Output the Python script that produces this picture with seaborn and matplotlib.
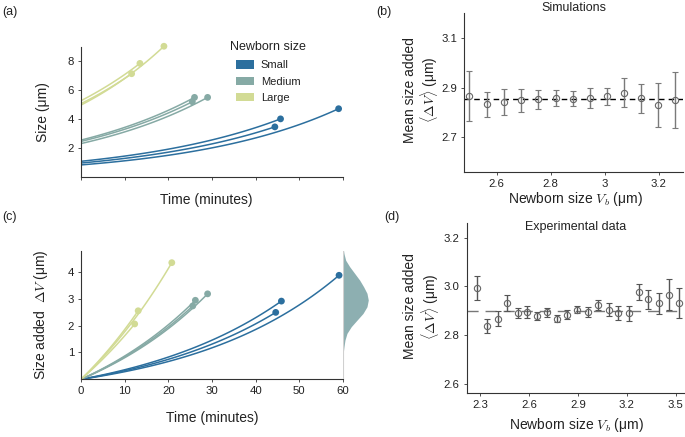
import numpy as np
import pandas as pd
import matplotlib
matplotlib.use("Agg")
import matplotlib.pyplot as plt
import seaborn as sns
from matplotlib.patches import Patch

# ---- data ----
size_groups = ["Small", "Medium", "Large"]
group_colors = ["#2c6f9e", "#86aaa5", "#d2db95"]

cell_group = ["Small"] * 3 + ["Medium"] * 3 + ["Large"] * 3
birth_size = [0.83, 1.08, 0.96, 2.54, 2.45, 2.30, 5.05, 5.25, 4.95]
div_size = [4.70, 4.00, 3.45, 5.48, 5.18, 5.48, 7.11, 7.82, 9.00]
div_time_a = [59.0, 45.7, 44.4, 26.0, 25.5, 29.0, 11.6, 13.5, 19.0]
div_time_c = [59.1, 45.9, 44.6, 26.2, 25.6, 29.0, 12.3, 13.1, 20.8]
added_size = [3.87, 2.91, 2.49, 2.94, 2.73, 3.18, 2.06, 2.55, 4.34]

# distribution of added size (panel c, right side)
dist_dv = [4.93, 4.68, 4.43, 4.19, 3.94, 3.69, 3.44, 3.20, 2.95, 2.70, 2.45,
           2.20, 1.96, 1.71, 1.46, 1.21, 0.90]
dist_width = [0, 1.0, 2.7, 6.7, 11.7, 16.7, 20.7, 24.0, 25.3, 24.0, 20.0,
              14.0, 8.3, 4.0, 2.0, 1.0, 0]

# panel b: simulations
sim_vb = [2.499, 2.563, 2.627, 2.690, 2.754, 2.818, 2.881, 2.945, 3.009,
          3.071, 3.136, 3.199, 3.262]
sim_mean = [2.866, 2.832, 2.842, 2.848, 2.853, 2.858, 2.855, 2.858, 2.864,
            2.880, 2.856, 2.830, 2.850]
sim_err = [0.100, 0.052, 0.051, 0.046, 0.038, 0.034, 0.030, 0.040, 0.034,
           0.057, 0.060, 0.087, 0.113]
sim_level = 2.852

# panel d: experimental data
exp_vb = [2.280, 2.341, 2.407, 2.464, 2.531, 2.590, 2.652, 2.713, 2.774,
          2.836, 2.897, 2.963, 3.024, 3.088, 3.149, 3.216, 3.278, 3.333,
          3.399, 3.460, 3.523]
exp_mean = [2.992, 2.837, 2.866, 2.932, 2.891, 2.894, 2.879, 2.893, 2.866,
            2.883, 2.904, 2.893, 2.923, 2.904, 2.891, 2.889, 2.978, 2.946,
            2.930, 2.966, 2.931]
exp_err = [0.050, 0.029, 0.031, 0.034, 0.020, 0.025, 0.016, 0.018, 0.014,
           0.018, 0.014, 0.020, 0.022, 0.026, 0.028, 0.030, 0.033, 0.040,
           0.043, 0.062, 0.063]
exp_level = 2.90

# ---- style ----
sns.set_style("ticks")
plt.rcParams["font.family"] = ["Liberation Sans", "DejaVu Sans"]
plt.rcParams["mathtext.fontset"] = "cm"
AX_COL = "#333333"
TXT = "#222222"
palette = dict(zip(size_groups, group_colors))


def style_axes(ax):
    sns.despine(ax=ax)
    for s in ("left", "bottom"):
        ax.spines[s].set_color(AX_COL)
        ax.spines[s].set_linewidth(0.8)
    ax.tick_params(length=2, width=0.6, color=AX_COL, labelsize=8.2,
                   labelcolor=TXT, pad=3)


# growth curves (exponential between birth and division)
rows_a, rows_c = [], []
for i in range(len(cell_group)):
    vb, vd = birth_size[i], div_size[i]
    ta = np.linspace(0, div_time_a[i], 120)
    va = vb * (vd / vb) ** (ta / div_time_a[i])
    rows_a.append(pd.DataFrame({"t": ta, "v": va, "cell": i, "group": cell_group[i]}))
    lam = np.log(vd / vb) / div_time_c[i]
    tc = np.linspace(0, div_time_c[i], 120)
    dv = added_size[i] * (np.exp(lam * tc) - 1) / (np.exp(lam * div_time_c[i]) - 1)
    rows_c.append(pd.DataFrame({"t": tc, "dv": dv, "cell": i, "group": cell_group[i]}))
curves_a = pd.concat(rows_a, ignore_index=True)
curves_c = pd.concat(rows_c, ignore_index=True)

fig = plt.figure(figsize=(6.85, 4.37), dpi=100)
ax_a = fig.add_axes([0.1182, 0.595, 0.3825, 0.2975])
ax_c = fig.add_axes([0.1182, 0.132, 0.3825, 0.294])
ax_dist = fig.add_axes([0.5007, 0.132, 0.0438, 0.294], sharey=ax_c)
ax_b = fig.add_axes([0.6774, 0.6064, 0.3197, 0.3638])
ax_d = fig.add_axes([0.6813, 0.100, 0.317, 0.3897])

# ---- (a) ----
sns.lineplot(data=curves_a, x="t", y="v", hue="group", units="cell",
             estimator=None, palette=palette, legend=False, sort=False,
             linewidth=1.1, ax=ax_a)
sns.scatterplot(x=div_time_a, y=div_size, hue=cell_group, palette=palette,
                s=24, edgecolor="none", legend=False, clip_on=False, ax=ax_a,
                zorder=3)
ax_a.set_xlim(0, 60)
ax_a.set_ylim(0, 8.95)
ax_a.set_xticks(range(0, 61, 10))
ax_a.set_xticklabels([])
ax_a.set_yticks([2, 4, 6, 8])
style_axes(ax_a)
ax_a.set_xlabel("Time (minutes)", fontsize=10, color=TXT)
ax_a.set_ylabel("Size (μm)", fontsize=10, color=TXT)
ax_a.xaxis.set_label_coords(0.48, -0.125)
ax_a.yaxis.set_label_coords(-0.118, 0.5)
handles = [Patch(facecolor=c, edgecolor="none", label=g)
           for g, c in zip(size_groups, group_colors)]
leg = ax_a.legend(handles=handles, loc="upper left",
                  bbox_to_anchor=(0.592, 0.897), frameon=False, fontsize=8,
                  handlelength=1.62, handleheight=0.8,
                  handletextpad=0.6, labelspacing=0.55, borderpad=0,
                  borderaxespad=0)
for t in leg.get_texts():
    t.set_color(TXT)
ax_a.text(0.715, 1.003, "Newborn size", transform=ax_a.transAxes,
          ha="center", va="center", fontsize=9, color=TXT)

# ---- (c) ----
sns.lineplot(data=curves_c, x="t", y="dv", hue="group", units="cell",
             estimator=None, palette=palette, legend=False, sort=False,
             linewidth=1.1, ax=ax_c)
sns.scatterplot(x=div_time_c, y=added_size, hue=cell_group, palette=palette,
                s=24, edgecolor="none", legend=False, clip_on=False, ax=ax_c,
                zorder=3)
ax_c.set_xlim(0, 60)
ax_c.set_ylim(0, 4.78)
ax_c.set_xticks(range(0, 61, 10))
ax_c.set_yticks([1, 2, 3, 4])
style_axes(ax_c)
ax_c.set_xlabel("Time (minutes)", fontsize=10, color=TXT)
ax_c.set_ylabel(r"Size added  $\Delta V$ (μm)", fontsize=10, color=TXT)
ax_c.xaxis.set_label_coords(0.5, -0.25)
ax_c.yaxis.set_label_coords(-0.118, 0.5)

ax_dist.fill_betweenx(dist_dv, 0, dist_width, color="#8dafb1", linewidth=0)
ax_dist.plot([0, 0], [0, dist_dv[0] + 0.05], color="#d0d0d0", lw=0.8)
ax_dist.set_xlim(0, 30)
ax_dist.axis("off")

# ---- (b) ----
ax_b.axhline(sim_level, color="black", lw=1.0, ls=(0, (4, 3)), zorder=1)
ax_b.errorbar(sim_vb, sim_mean, yerr=sim_err, fmt="o", ms=4.5, mfc="none",
              mec="#666666", mew=0.8, ecolor="#7a7a7a", elinewidth=1.0,
              capsize=2.5, capthick=0.9, zorder=2)
ax_b.set_xlim(2.479, 3.29)
ax_b.set_ylim(2.56, 3.2)
ax_b.set_xticks([2.6, 2.8, 3.0, 3.2])
ax_b.set_xticklabels(["2.6", "2.8", "3", "3.2"])
ax_b.set_yticks([2.7, 2.9, 3.1])
style_axes(ax_b)
ax_b.set_xlabel(r"Newborn size $V_b$ (μm)", fontsize=10, color=TXT)
ax_b.set_ylabel("Mean size added\n" + r"$\langle \Delta V \rangle$ (μm)",
                fontsize=10, color=TXT, linespacing=1.1)
ax_b.xaxis.set_label_coords(0.51, -0.113)
ax_b.yaxis.set_label_coords(-0.108, 0.516)
ax_b.text(0.5, 1.03, "Simulations", transform=ax_b.transAxes, ha="center",
          va="center", fontsize=9, color=TXT)

# ---- (d) ----
ax_d.axhline(exp_level, color="#777777", lw=1.0, ls=(0, (8, 5)), zorder=1)
ax_d.errorbar(exp_vb, exp_mean, yerr=exp_err, fmt="o", ms=4.5, mfc="none",
              mec="#666666", mew=0.8, ecolor="#555555", elinewidth=1.0,
              capsize=2.2, capthick=0.9, zorder=2)
ax_d.set_xlim(2.218, 3.55)
ax_d.set_ylim(2.56, 3.26)
ax_d.set_xticks([2.3, 2.6, 2.9, 3.2, 3.5])
ax_d.set_yticks([2.6, 2.8, 3.0, 3.2])
ax_d.set_yticklabels(["2.6", "2.8", "3.0", "3.2"])
style_axes(ax_d)
ax_d.set_xlabel(r"Newborn size $V_b$ (μm)", fontsize=10, color=TXT)
ax_d.set_ylabel("Mean size added\n" + r"$\langle \Delta V \rangle$ (μm)",
                fontsize=10, color=TXT, linespacing=1.1)
ax_d.xaxis.set_label_coords(0.504, -0.135)
ax_d.yaxis.set_label_coords(-0.118, 0.51)
ax_d.text(0.5, 0.978, "Experimental data", transform=ax_d.transAxes,
          ha="center", va="center", fontsize=9, color=TXT)

# panel letters
for x, y, s in [(0.003, 0.9725, "(a)"), (0.549, 0.9725, "(b)"),
                (0.003, 0.504, "(c)"), (0.561, 0.503, "(d)")]:
    fig.text(x, y, s, ha="left", va="center", fontsize=9, color=TXT)

fig.savefig("out.png", dpi=100)
